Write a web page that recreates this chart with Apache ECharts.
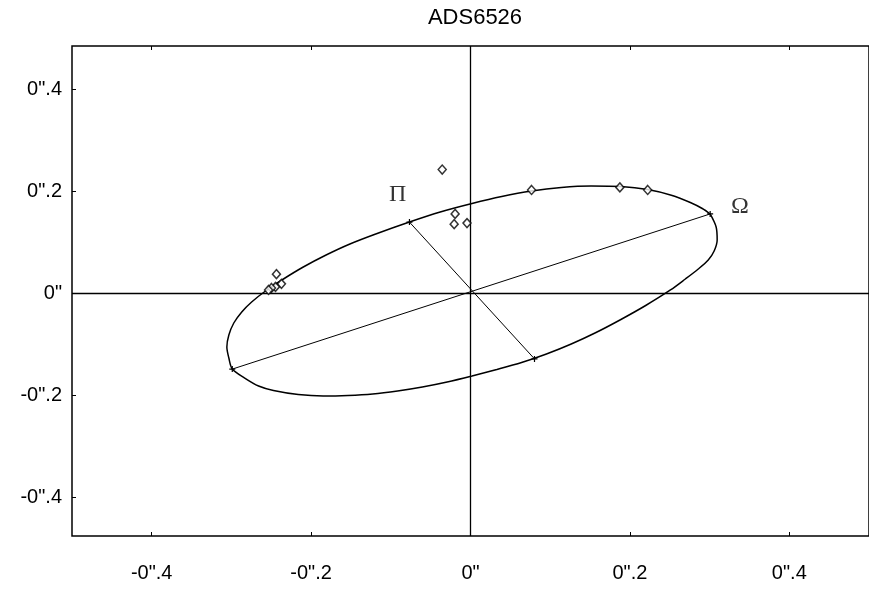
<!DOCTYPE html>
<html><head><meta charset="utf-8">
<script src="https://cdn.jsdelivr.net/npm/echarts@6/dist/echarts.min.js"></script>
<style>html,body{margin:0;padding:0;background:#fff}#c{width:869px;height:595px}</style>
</head><body><div id="c"></div>
<script>
const chartTitle = 'ADS6526';
const xTickValues = [-0.4, -0.2, 0, 0.2, 0.4];
const yTickValues = [-0.4, -0.2, 0, 0.2, 0.4];
const tickLabelText = {'-0.4': '-0".4', '-0.2': '-0".2', '0': '0"', '0.2': '0".2', '0.4': '0".4'};

// apparent orbit
const orbitX = [0.3007,0.3082,0.3095,0.3057,0.2983,0.2858,0.2696,0.2509,0.2198,0.1887,0.1575,0.1264,0.0953,0.0641,0.0330,0.0019,-0.0293,-0.0604,-0.0915,-0.1227,-0.1538,-0.1849,-0.2161,-0.2472,-0.2659,-0.2833,-0.2989,-0.3032,-0.3057,-0.3032,-0.2970,-0.2870,-0.2746,-0.2572,-0.2347,-0.2098,-0.1812,-0.1513,-0.1189,-0.0766,-0.0380,0.0019,0.0392,0.0766,0.1139,0.1513,0.1887,0.2223,0.2509,0.2758,0.2908,0.3007];
const orbitY = [0.1559,0.1304,0.1049,0.0834,0.0657,0.0481,0.0285,0.0070,-0.0234,-0.0508,-0.0763,-0.0988,-0.1184,-0.1351,-0.1488,-0.1615,-0.1733,-0.1831,-0.1909,-0.1968,-0.1997,-0.2007,-0.1978,-0.1899,-0.1811,-0.1655,-0.1478,-0.1263,-0.1047,-0.0812,-0.0577,-0.0361,-0.0166,0.0050,0.0285,0.0520,0.0755,0.0971,0.1167,0.1402,0.1598,0.1764,0.1901,0.2009,0.2078,0.2107,0.2097,0.2039,0.1931,0.1784,0.1666,0.1559];

// observations
const obsX = [-0.0355,-0.0193,-0.0205,-0.0044,0.0766,0.1874,0.2223,-0.2435,-0.2372,-0.2447,-0.2497,-0.2534];
const obsY = [0.243,0.156,0.136,0.138,0.203,0.208,0.203,0.038,0.019,0.013,0.011,0.007];

// line of nodes and line of apsides
const nodeLineX = [-0.2989, 0.3007];
const nodeLineY = [-0.148, 0.156];
const apsLineX = [-0.0766, 0.0803];
const apsLineY = [0.140, -0.128];

// point labels
const markNames = ['Π', 'Ω'];
const markX = [-0.0915, 0.3380];
const markY = [0.193, 0.170];

const zip = (a, b) => a.map((v, i) => [v, b[i]]);
const fmt = v => { const k = String(Math.round(v * 10) / 10); return tickLabelText[k] !== undefined ? tickLabelText[k] : ''; };
const plus = 'path://M5,0L5,10M0,5L10,5';

const chart = echarts.init(document.getElementById('c'), null, {renderer: 'canvas'});
const axisFont = {fontFamily: 'Liberation Sans, Arial, sans-serif', fontSize: 20, color: '#000'};
chart.setOption({
  animation: false,
  backgroundColor: '#fff',
  title: {text: chartTitle, left: 470, top: 2, textAlign: 'center',
    textStyle: {fontFamily: 'Liberation Sans, Arial, sans-serif', fontSize: 22, fontWeight: 'normal', color: '#000'}},
  grid: {left: 72, top: 46, width: 803, height: 490, show: true, borderColor: '#000', borderWidth: 1.5, backgroundColor: 'transparent'},
  xAxis: [{
    type: 'value', min: -0.5, max: 0.5, position: 'bottom',
    axisLine: {show: false, onZero: false},
    splitLine: {show: false},
    axisTick: {show: true, inside: true, length: 4, customValues: xTickValues, lineStyle: {color: '#000'}},
    axisLabel: {customValues: xTickValues, formatter: fmt, margin: 27, ...axisFont}
  }, {
    type: 'value', min: -0.5, max: 0.5, position: 'top',
    axisLine: {show: false, onZero: false},
    splitLine: {show: false},
    axisTick: {show: true, inside: true, length: 4, customValues: xTickValues, lineStyle: {color: '#000'}},
    axisLabel: {show: false}
  }],
  yAxis: [{
    type: 'value', min: -0.475, max: 0.485, position: 'left',
    axisLine: {show: false, onZero: false},
    splitLine: {show: false},
    axisTick: {show: true, inside: true, length: 4, customValues: yTickValues, lineStyle: {color: '#000'}},
    axisLabel: {customValues: yTickValues, formatter: fmt, margin: 10, ...axisFont}
  }],
  series: [
    {
      type: 'line', name: 'orbit', data: zip(orbitX, orbitY), smooth: 0.3,
      showSymbol: false, lineStyle: {color: '#000', width: 1.5}, z: 3,
      markLine: {silent: true, symbol: 'none', label: {show: false},
        lineStyle: {color: '#000', width: 1.3, type: 'solid'},
        data: [{xAxis: 0}, {yAxis: 0}]}
    },
    {
      type: 'line', name: 'nodes', data: zip(nodeLineX, nodeLineY),
      symbol: plus, symbolSize: 6, showSymbol: true,
      itemStyle: {color: 'none', borderColor: '#000', borderWidth: 1.2},
      lineStyle: {color: '#000', width: 1}, z: 3
    },
    {
      type: 'line', name: 'apsides', data: zip(apsLineX, apsLineY),
      symbol: plus, symbolSize: 6, showSymbol: true,
      itemStyle: {color: 'none', borderColor: '#000', borderWidth: 1.2},
      lineStyle: {color: '#000', width: 1}, z: 3
    },
    {
      type: 'scatter', name: 'observations', data: zip(obsX, obsY),
      symbol: 'diamond', symbolSize: [8, 9],
      itemStyle: {color: '#fff', borderColor: '#000', borderWidth: 1.5}, z: 5
    },
    {
      type: 'scatter', name: 'labels', data: markX.map((x, i) => ({value: [x, markY[i]], name: markNames[i]})),
      symbolSize: 0,
      label: {show: true, position: 'inside', formatter: p => p.name,
        fontFamily: 'Liberation Serif, DejaVu Serif, serif', fontSize: 24, color: '#000'}, z: 6
    }
  ]
});
</script>
</body></html>
